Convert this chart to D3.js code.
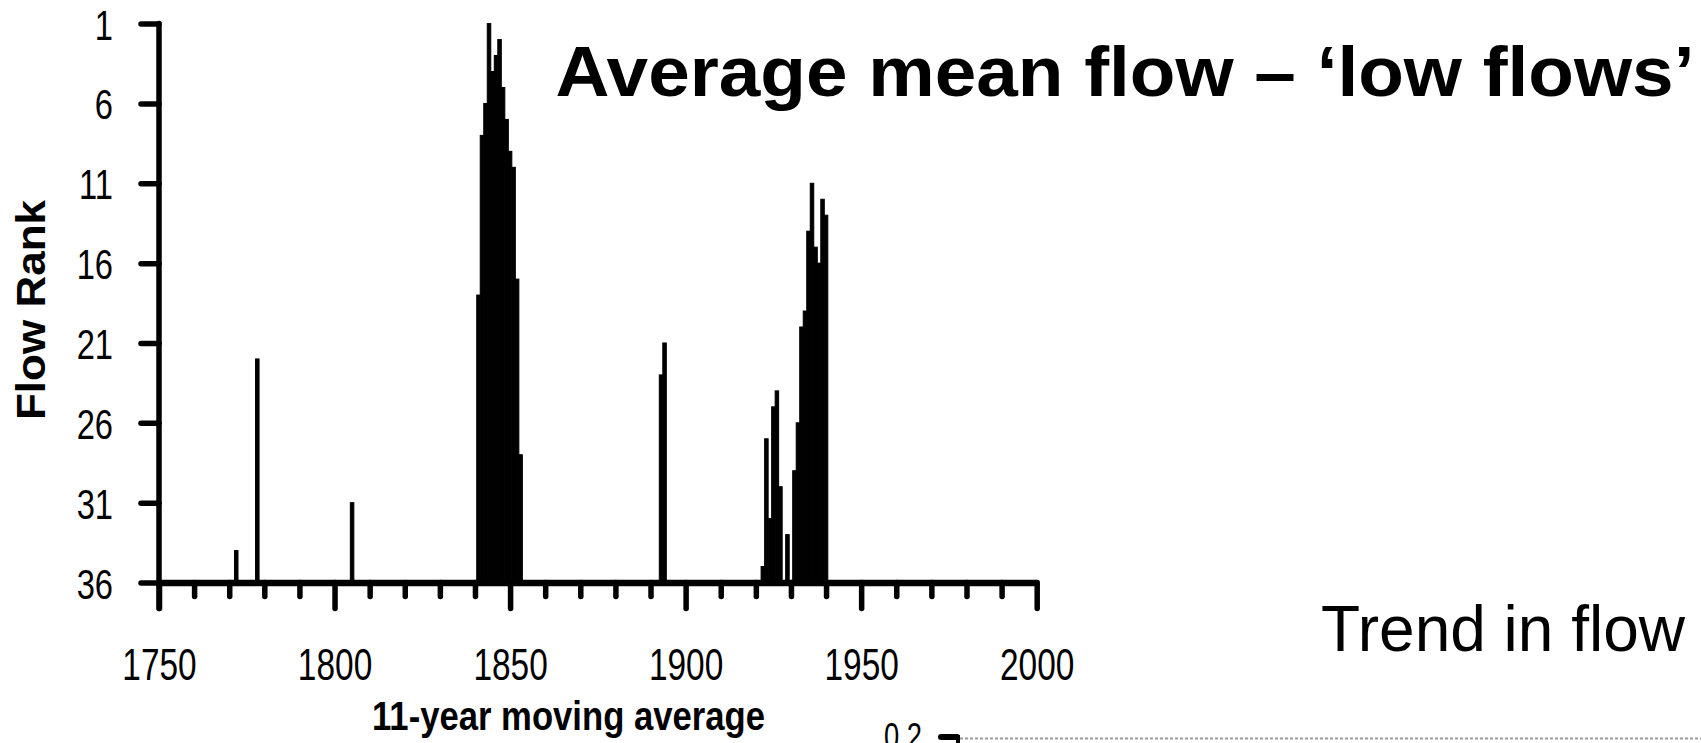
<!DOCTYPE html>
<html><head><meta charset="utf-8">
<script src="https://cdn.jsdelivr.net/npm/d3@7"></script>
<style>
body{margin:0;background:#fff;overflow:hidden}
text{font-family:"Liberation Sans",Arial,Helvetica,sans-serif}
</style>
</head><body>
<svg id="c" width="1701" height="743" style="display:block;background:#fff"></svg>
<script>
// ---- data ----
const lowYears = [1772,1778,1805,
  1841,1842,1843,1844,1845,1846,1847,1848,1849,1850,1851,1852,1853,
  1893,1894,
  1922,1923,1924,1925,1926,1927,1929,1931,1932,1933,1934,1935,1936,1937,1938,1939,1940];
const lowRanks = [34,22,31,
  18,8,6,1,4,3,2,5,7,9,10,17,28,
  23,21,
  35,27,32,25,24,30,33,29,26,20,19,14,11,15,16,12,13];
const rankTicks = [1,6,11,16,21,26,31,36];
const yearMajor = [1750,1800,1850,1900,1950,2000];
const yearMinor = [1760,1770,1780,1790,1810,1820,1830,1840,1860,1870,1880,1890,
                   1910,1920,1930,1940,1960,1970,1980,1990];
const titleText = "Average mean flow \u2013 \u2018low flows\u2019";
const xTitle = "11-year moving average";
const yTitle = "Flow Rank";
const sideText = "Trend in flow";
const nextChartTick = "0.2";

const svg = d3.select("#c");
const FONT = '"Liberation Sans",Arial,Helvetica,sans-serif';

const x = d3.scaleLinear().domain([1750,2000]).range([159,1036.7]);
const y = d3.scaleLinear().domain([1,36]).range([23.6,582.5]);
const bw = x(1751) - x(1750);
const base = y(36);

// bars
svg.append("g").selectAll("rect")
  .data(lowYears.map((yr,i)=>({yr, r: lowRanks[i]})))
  .join("rect")
  .attr("x", d => x(d.yr) - bw/2)
  .attr("width", bw)
  .attr("y", d => y(d.r))
  .attr("height", d => base - y(d.r))
  .attr("fill", "#000")
  .attr("stroke", "#000")
  .attr("stroke-width", 1);

// x axis: minor ticks
const gMinor = svg.append("g").attr("transform", `translate(0,${base})`)
  .call(d3.axisBottom(x).tickValues(yearMinor).tickSize(14).tickSizeOuter(0).tickFormat(""));
gMinor.select(".domain").remove();
gMinor.selectAll(".tick line").attr("stroke","#000").attr("stroke-width",5.5).attr("stroke-linecap","round");

// x axis: major ticks + labels
const gx = svg.append("g").attr("transform", `translate(0,${base})`)
  .call(d3.axisBottom(x).tickValues(yearMajor).tickSize(26).tickSizeOuter(0).tickFormat(d3.format("d")));
gx.select(".domain").attr("stroke","#000").attr("stroke-width",6.5);
gx.selectAll(".tick line").attr("stroke","#000").attr("stroke-width",5.5).attr("stroke-linecap","round");
gx.attr("font-family", FONT).attr("font-size", 44);
gx.selectAll(".tick text")
  .attr("y", null).attr("dy", null)
  .attr("fill","#000")
  .attr("text-anchor","middle")
  .attr("transform", "translate(0,97.5) scale(0.76,1)");

// y axis
const gy = svg.append("g").attr("transform", `translate(${x(1750)},0)`)
  .call(d3.axisLeft(y).tickValues(rankTicks).tickSize(18).tickSizeOuter(0).tickFormat(d3.format("d")));
gy.select(".domain").remove();
gy.selectAll(".tick line").attr("stroke","#000").attr("stroke-width",5.5).attr("stroke-linecap","round");
gy.attr("font-family", FONT).attr("font-size", 43);
gy.selectAll(".tick text")
  .attr("x", null).attr("dy", null)
  .attr("fill","#000")
  .attr("text-anchor","end")
  .attr("transform", "translate(-46,15.5) scale(0.76,1)");
gy.append("line")
  .attr("x1",0).attr("x2",0)
  .attr("y1", y(1)).attr("y2", base + 26)
  .attr("stroke","#000").attr("stroke-width",5.5).attr("stroke-linecap","round");

// titles
svg.append("text").text(titleText)
  .attr("x", 555.4).attr("y", 95.5)
  .attr("font-weight","bold").attr("font-size",70)
  .attr("textLength",1139).attr("lengthAdjust","spacingAndGlyphs");

svg.append("text").text(sideText)
  .attr("x", 1321).attr("y", 651)
  .attr("font-size",64)
  .attr("textLength",364).attr("lengthAdjust","spacingAndGlyphs");

svg.append("text").text(xTitle)
  .attr("x", 568.5).attr("y", 730)
  .attr("text-anchor","middle")
  .attr("font-weight","bold").attr("font-size",40.5)
  .attr("textLength",393).attr("lengthAdjust","spacingAndGlyphs");

svg.append("text").text(yTitle)
  .attr("transform","translate(45,310) rotate(-90)")
  .attr("text-anchor","middle")
  .attr("font-weight","bold").attr("font-size",40)
  .attr("textLength",220).attr("lengthAdjust","spacingAndGlyphs");

// fragment of next chart at bottom right
svg.append("text").text(nextChartTick)
  .attr("x", 884).attr("y", 749)
  .attr("font-size",36)
  .attr("textLength",38).attr("lengthAdjust","spacingAndGlyphs");
svg.append("line").attr("x1",960).attr("x2",1701).attr("y1",738.5).attr("y2",738.5)
  .attr("stroke","#9a9a9a").attr("stroke-width",2).attr("stroke-dasharray","3,2");
svg.append("line").attr("x1",941).attr("x2",957).attr("y1",737).attr("y2",737)
  .attr("stroke","#000").attr("stroke-width",6).attr("stroke-linecap","round");
svg.append("line").attr("x1",958).attr("x2",958).attr("y1",735).attr("y2",760)
  .attr("stroke","#000").attr("stroke-width",4);
</script>
</body></html>
